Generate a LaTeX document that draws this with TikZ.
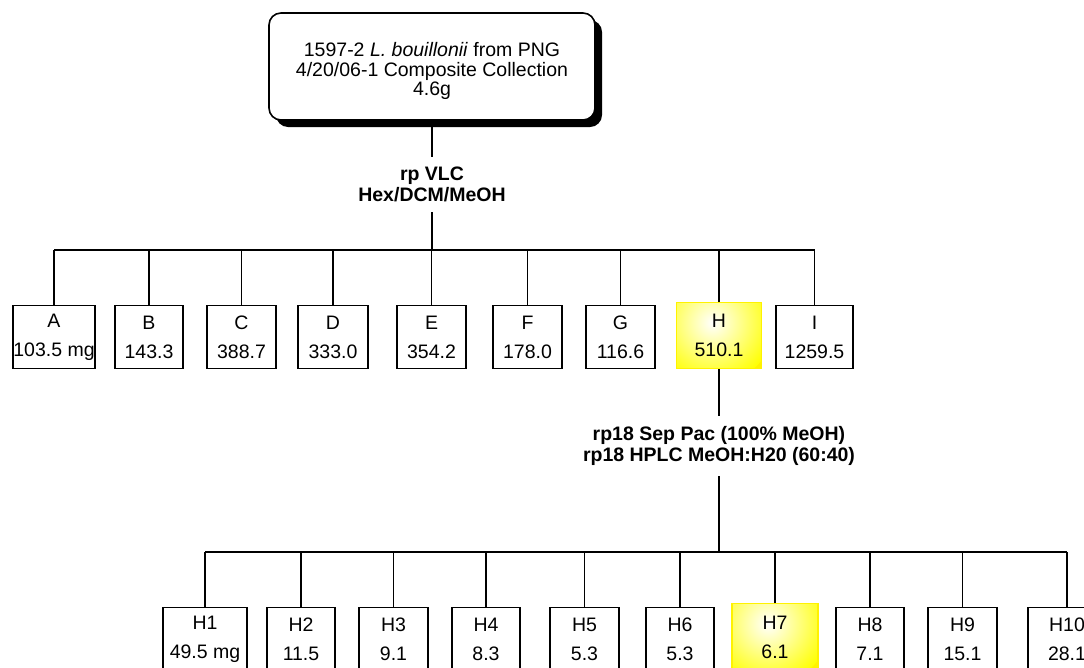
\documentclass[tikz,border=0pt]{standalone}
\usepackage{fontspec}
\setmainfont{Liberation Sans}
\usetikzlibrary{shadows}
\newcommand{\fracnode}[6]% name, x, top, width, letter, amount
{\node[frac, minimum width=#4, anchor=north] (#1) at (#2,#3) {#5\\#6};
}
\tikzset{
  frac/.style={draw, line width=1.1pt, minimum height=63pt, inner sep=0pt, align=center, font=\fontsize{19.5}{29}\selectfont},
  hit/.style={frac, draw=yellow, fill=yellow, path picture={\shade[inner color=white, outer color=yellow] ([shift={(36pt,-20pt)}]path picture bounding box.north west) circle (62pt);}},
  source/.style={draw, line width=1.6pt, fill=white, rounded corners=12pt, minimum width=326pt, minimum height=107pt, align=center, font=\fontsize{19.5}{19.5}\selectfont, drop shadow={shadow xshift=7pt, shadow yshift=-7pt, fill=black, opacity=1}},
  method/.style={inner sep=0pt, align=center, font=\fontsize{19.5}{21}\selectfont\bfseries},
  link/.style={line width=1.8pt},
  bus/.style={line width=1.4pt}
}

\begin{document}
\begin{tikzpicture}[x=1pt,y=-1pt]
\clip (0,0) rectangle (1084,667);

\node[source] (src) at (432,66.5) {\rule{0pt}{24pt}1597-2 \textit{L. bouillonii} from PNG\\4/20/06-1 Composite Collection\\4.6g};
\node[method, minimum height=55pt] (vlc) at (432,184.5) {rp VLC\\Hex/DCM/MeOH};
\coordinate (bus1) at (432,250);

\fracnode{A}{54}{305}{82}{A}{103.5 mg}
\fracnode{B}{149}{305}{68}{B}{143.3}
\fracnode{C}{241.5}{305}{69}{C}{388.7}
\fracnode{D}{333}{305}{70}{D}{333.0}
\fracnode{E}{431.5}{305}{69}{E}{354.2}
\fracnode{F}{527.5}{305}{69}{F}{178.0}
\fracnode{G}{620.5}{305}{69}{G}{116.6}
\node[hit, minimum width=85pt, minimum height=66pt, anchor=north] (H) at (719,302) {H\\510.1};
\fracnode{I}{814.5}{305}{77}{I}{1259.5}

\node[method, minimum height=60pt] (hplc) at (719,446) {rp18 Sep Pac (100\% MeOH)\\rp18 HPLC MeOH:H20 (60:40)};
\coordinate (bus2) at (719,552);

\fracnode{H1}{205}{607}{84}{H1}{49.5 mg}
\fracnode{H2}{301}{607}{68}{H2}{11.5}
\fracnode{H3}{393.5}{607}{69}{H3}{9.1}
\fracnode{H4}{486}{607}{68}{H4}{8.3}
\fracnode{H5}{584.5}{607}{69}{H5}{5.3}
\fracnode{H6}{680}{607}{68}{H6}{5.3}
\node[hit, minimum width=86pt, minimum height=67pt, anchor=north] (H7) at (775,603) {H7\\6.1};
\fracnode{H8}{870}{607}{68}{H8}{7.1}
\fracnode{H9}{962.5}{607}{69}{H9}{15.1}
\fracnode{H10}{1067}{607}{78}{H10}{28.1}

\draw[link] (src.south) -- (vlc.north);
\draw[link] (vlc.south) -- (bus1);
\draw[bus] (A.north |- bus1) -- (I.north |- bus1);
\draw[link] (A.north) -- (A.north |- bus1);
\draw[link] (B.north) -- (B.north |- bus1);
\draw[link] (C.north) -- (C.north |- bus1);
\draw[link] (D.north) -- (D.north |- bus1);
\draw[link] (E.north) -- (E.north |- bus1);
\draw[link] (F.north) -- (F.north |- bus1);
\draw[link] (G.north) -- (G.north |- bus1);
\draw[link] (H.north) -- (H.north |- bus1);
\draw[link] (I.north) -- (I.north |- bus1);

\draw[link] (H.south) -- (hplc.north);
\draw[link] (hplc.south) -- (bus2);
\draw[bus] (H1.north |- bus2) -- (H10.north |- bus2);
\draw[link] (H1.north) -- (H1.north |- bus2);
\draw[link] (H2.north) -- (H2.north |- bus2);
\draw[link] (H3.north) -- (H3.north |- bus2);
\draw[link] (H4.north) -- (H4.north |- bus2);
\draw[link] (H5.north) -- (H5.north |- bus2);
\draw[link] (H6.north) -- (H6.north |- bus2);
\draw[link] (H7.north) -- (H7.north |- bus2);
\draw[link] (H8.north) -- (H8.north |- bus2);
\draw[link] (H9.north) -- (H9.north |- bus2);
\draw[link] (H10.north) -- (H10.north |- bus2);
\end{tikzpicture}
\end{document}
